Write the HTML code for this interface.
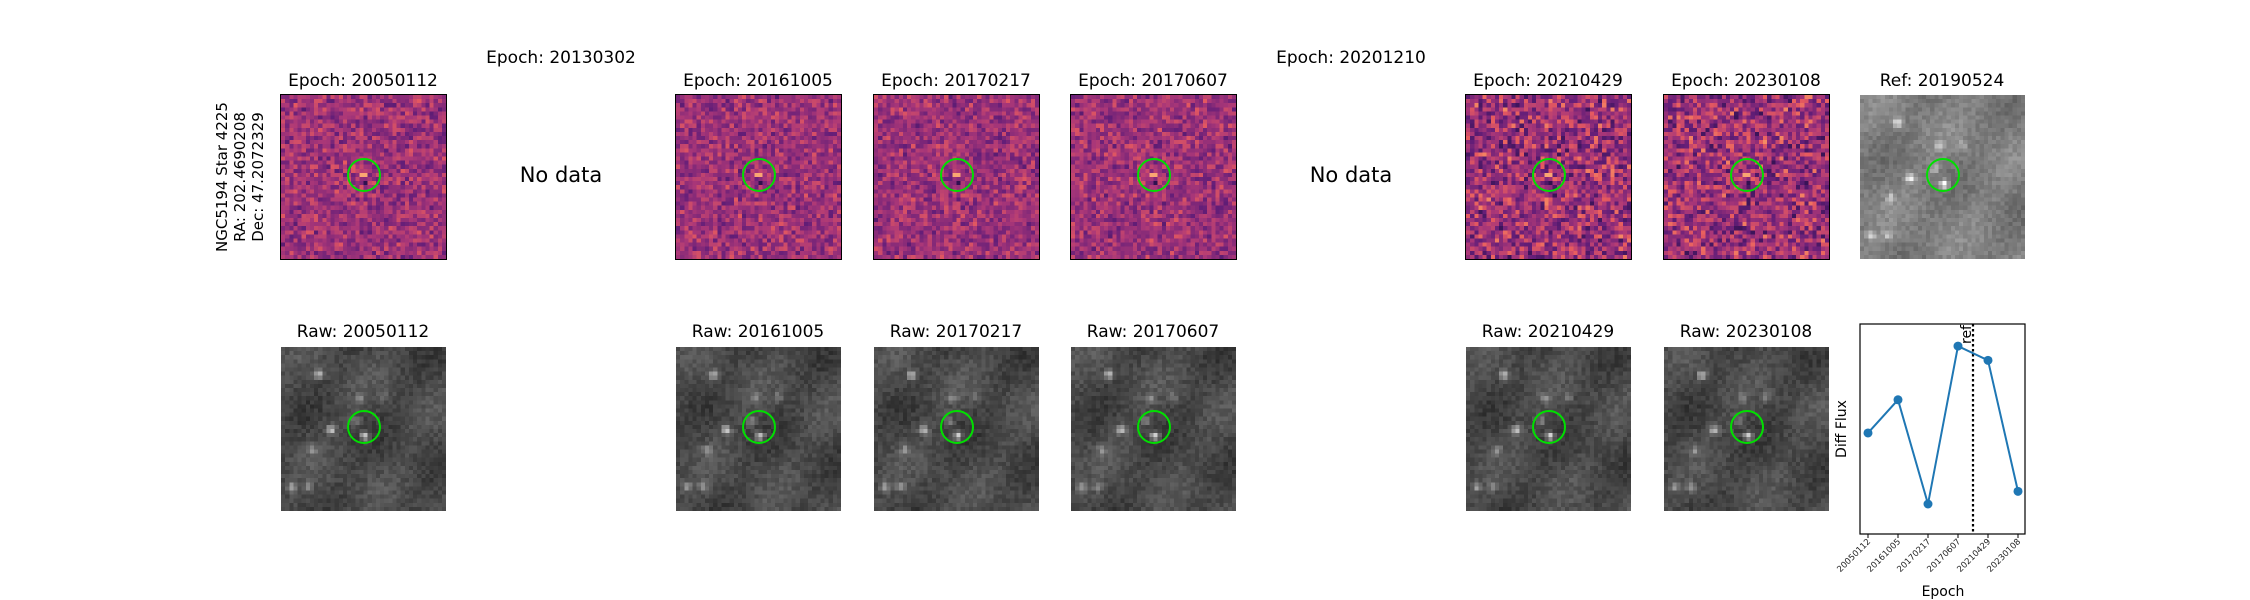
<!DOCTYPE html>
<html><head><meta charset="utf-8">
<style>
body{margin:0;width:2250px;height:600px;background:#fff;position:relative;overflow:hidden;font-family:"DejaVu Sans","Liberation Sans",sans-serif;}
.t{position:absolute;font-size:17px;color:#000;white-space:nowrap;transform:translate(-50%,-50%);}
canvas{position:absolute;}
.circ{position:absolute;border:2px solid #00e000;border-radius:50%;box-sizing:border-box;}
</style></head><body>
<div class="t" style="left:240px;top:177px;transform:translate(-50%,-50%) rotate(-90deg);text-align:center;line-height:18px;font-size:15px;">NGC5194 Star 4225<br>RA: 202.4690208<br>Dec: 47.2072329</div>
<div id="root"></div>
<svg id="lc" width="2250" height="600" style="position:absolute;left:0;top:0;font-family:'DejaVu Sans',sans-serif"></svg>
<script>
const epochs=["20050112","20161005","20170217","20170607","20210429","20230108"];
const fluxValues=[0.45,0.66,0.0,1.0,0.91,0.08];
const refPosition=3.5;
const yDomain=[-0.19,1.14];

const cols=[281,479,676,874,1071,1269,1466,1664];
const colEpochs=["20050112","20130302","20161005","20170217","20170607","20201210","20210429","20230108"];
const hasData=[1,0,1,1,1,0,1,1];
let seed=7;function rnd(){seed=(seed*16807)%2147483647;return seed/2147483647;}
const root=document.getElementById('root');
function magma(t){t=Math.max(0,Math.min(1,t));const s=[[0,[20,10,60]],[0.3,[100,30,120]],[0.55,[170,55,120]],[0.75,[230,90,95]],[0.9,[250,150,100]],[1,[252,230,170]]];for(let i=1;i<s.length;i++){if(t<=s[i][0]){const a=s[i-1],b=s[i],f=(t-a[0])/(b[0]-a[0]);return a[1].map((v,k)=>Math.round(v+(b[1][k]-v)*f));}}return s[5][1];}
const stars=[[38,28,0.8],[50,83,0.9],[31,103,0.5],[11,140,0.6],[27,140,0.5],[84,89,1],[79,51,0.4],[102,50,0.3],[75,74,0.4]];
function panel(x,y,type,name,noise){
  const c=document.createElement('canvas');c.width=40;c.height=40;
  c.style.cssText=`left:${x}px;top:${y}px;width:165px;height:164px;image-rendering:pixelated;`+(type==='diff'?'outline:1.3px solid #000;':'');
  
  
  const g=c.getContext('2d');const im=g.createImageData(40,40);
  for(let j=0;j<40;j++)for(let i=0;i<40;i++){
    let col;
    if(type==='diff'){let v=0.5+(rnd()-0.5)*noise+(rnd()-0.5)*noise*0.5;
      if(i>=19&&i<=20&&j===19)v=0.92;
      if(i===20&&j===21)v=0.1;
      col=magma(v);}
    else{let v=(type==='ref'?125:72)+(rnd()-0.5)*28+10*Math.sin(i*0.3+j*0.2)+8*Math.cos(j*0.25-i*0.1);
      for(const s of stars){const dx=(i+0.5)*4.125-s[0],dy=(j+0.5)*4.1-s[1];v+=s[2]*150*Math.exp(-(dx*dx+dy*dy)/18);}
      v=Math.min(255,v);col=[v,v,v];}
    const k=(j*40+i)*4;im.data[k]=col[0];im.data[k+1]=col[1];im.data[k+2]=col[2];im.data[k+3]=255;}
  g.putImageData(im,0,0);root.appendChild(c);
  const ci=document.createElement('div');ci.className='circ';
  ci.style.cssText=`left:${x+83-17}px;top:${y+80-17}px;width:34px;height:34px;`;
  
  
  root.appendChild(ci);
}
function title(x,y,txt,name,fs){const d=document.createElement('div');d.className='t';d.textContent=txt;d.style.left=x+'px';d.style.top=y+'px';if(fs)d.style.fontSize=fs+'px';
  
  
  root.appendChild(d);}
cols.forEach((x,i)=>{
  const e=colEpochs[i];
  if(hasData[i]){
    title(x+82,81,'Epoch: '+e,'diff-title');
    panel(x,95,'diff','diff-image',i>=6?0.5:0.33);
    title(x+82,332,'Raw: '+e,'raw-title');
    panel(x,347,'raw','raw-image');
  }else{
    title(x+82,58,'Epoch: '+e,'missing-epoch-title');
    title(x+82,175,'No data','no-data-label',21);
  }
});
title(1860+82,81,'Ref: 20190524','ref-title');
panel(1860,95,'ref','reference-image');

// lightcurve
const svg=document.getElementById('lc');const NS='http://www.w3.org/2000/svg';
const L=1860,R=2025,T=324,B=534;
const xs=i=>1868+i*30;
const ys=v=>B-(v-yDomain[0])/(yDomain[1]-yDomain[0])*(B-T);
function el(tag,attrs,name,txt){const e=document.createElementNS(NS,tag);for(const k in attrs)e.setAttribute(k,attrs[k]);
  
  
  if(txt)e.textContent=txt;svg.appendChild(e);return e;}
el('rect',{x:L,y:T,width:R-L,height:B-T,fill:'none',stroke:'#000','stroke-width':1.2},'plot-frame');
el('line',{x1:xs(refPosition),x2:xs(refPosition),y1:T,y2:B,stroke:'#000','stroke-width':2.2,'stroke-dasharray':'2.5,2.5'},'ref-line');
el('text',{x:0,y:0,'font-size':14,transform:`translate(${xs(refPosition)-2},${T+20}) rotate(-90)`},'ref-label','ref');
el('polyline',{points:fluxValues.map((v,i)=>xs(i)+','+ys(v)).join(' '),fill:'none',stroke:'#1f77b4','stroke-width':2},'flux-line');
fluxValues.forEach((v,i)=>el('circle',{cx:xs(i),cy:ys(v),r:4.5,fill:'#1f77b4'},'flux-point'));
epochs.forEach((e,i)=>{
  el('line',{x1:xs(i),x2:xs(i),y1:B,y2:B+4,stroke:'#000'},'x-tick');
  el('text',{x:0,y:0,'font-size':8.5,'text-anchor':'end',fill:'#222',transform:`translate(${xs(i)+3},${B+8}) rotate(-45)`},'x-tick-label',e);
});
el('text',{x:0,y:0,'font-size':14,'text-anchor':'middle',transform:`translate(1846,429) rotate(-90)`},'y-axis-title','Diff Flux');
el('text',{x:1943,y:596,'font-size':14,'text-anchor':'middle'},'x-axis-title','Epoch');
</script>
</body></html>
